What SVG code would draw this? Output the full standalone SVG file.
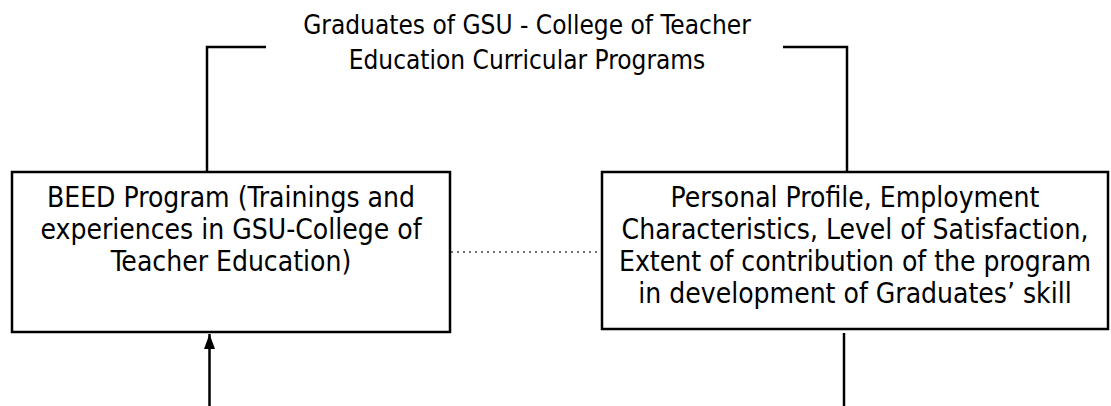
<svg xmlns="http://www.w3.org/2000/svg" width="1111" height="406" viewBox="0 0 1111 406">
<style>
.t{font-family:"DejaVu Sans Condensed","DejaVu Sans",sans-serif;fill:#000;text-anchor:middle}
.b{font-size:28px}
.h{font-size:26px}
.box{fill:#fff;stroke:#000;stroke-width:2.5}
.ln{fill:none;stroke:#000;stroke-width:2.5}
.dot{fill:none;stroke:#444;stroke-width:1.5;stroke-dasharray:2 4}
</style>
<defs>
<marker id="ah" markerWidth="15" markerHeight="11" refX="15" refY="5.5" orient="auto" markerUnits="userSpaceOnUse" viewBox="0 0 15 11">
<path d="M0,0 L15,5.5 L0,11 Z" fill="#000"/>
</marker>
</defs>
<g id="title">
<text class="t h" x="527" y="34">Graduates of GSU - College of Teacher</text>
<text class="t h" x="527" y="69">Education Curricular Programs</text>
</g>
<g id="connectors">
<polyline class="ln" points="207,172 207,47 266,47"/>
<polyline class="ln" points="783,47 847,47 847,172"/>
<line class="dot" x1="451" y1="252" x2="602" y2="252"/>
<line class="ln" x1="209.5" y1="406" x2="209.5" y2="334" marker-end="url(#ah)"/>
<line class="ln" x1="844" y1="333" x2="844" y2="406"/>
</g>
<g id="beed">
<rect class="box" x="12" y="172" width="438" height="160"/>
<text class="t b" x="231" y="207">BEED Program (Trainings and</text>
<text class="t b" x="231" y="239">experiences in GSU-College of</text>
<text class="t b" x="231" y="271">Teacher Education)</text>
</g>
<g id="profile">
<rect class="box" x="602" y="172" width="506" height="157"/>
<text class="t b" x="855" y="207">Personal Profile, Employment</text>
<text class="t b" x="855" y="239">Characteristics, Level of Satisfaction,</text>
<text class="t b" x="855" y="271">Extent of contribution of the program</text>
<text class="t b" x="855" y="303">in development of Graduates’ skill</text>
</g>
</svg>
